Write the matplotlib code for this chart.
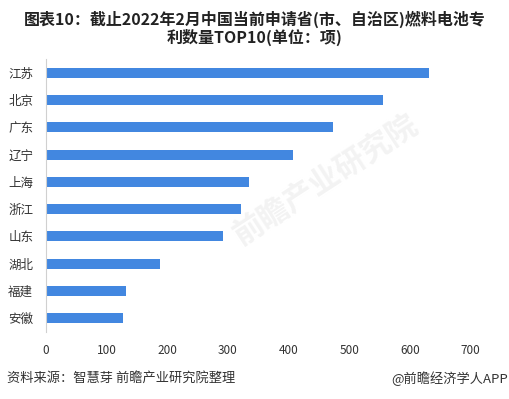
import matplotlib
matplotlib.use("Agg")
import matplotlib.pyplot as plt

plt.rcParams["font.family"] = ["Noto Sans CJK SC", "DejaVu Sans"]

provinces = ["江苏", "北京", "广东", "辽宁", "上海", "浙江", "山东", "湖北", "福建", "安徽"]
patents = [632, 556, 473, 407, 334, 321, 292, 189, 132, 127]
x_ticks = [0, 100, 200, 300, 400, 500, 600, 700]

title = "图表10：截止2022年2月中国当前申请省(市、自治区)燃料电池专\n利数量TOP10(单位：项)"
source = "资料来源：智慧芽 前瞻产业研究院整理"
brand = "@前瞻经济学人APP"

fig = plt.figure(figsize=(5.09, 3.99), dpi=100)
ax = fig.add_axes([0.0898, 0.168, 0.835, 0.684])

# faint watermark behind the bars
fig.text(0.64, 0.55, "前瞻产业研究院", fontsize=22, color="#f3f3f3",
         rotation=33, ha="center", va="center", fontweight="bold", zorder=0)

ax.barh(range(len(provinces)), patents, height=0.37, color="#4287e0", zorder=2)
ax.set_ylim(len(provinces) - 0.5, -0.5)
ax.set_xlim(0, 700)
ax.set_yticks(range(len(provinces)))
ax.set_yticklabels(provinces, fontsize=9, color="#333333")
ax.set_xticks(x_ticks)
ax.set_xticklabels([str(t) for t in x_ticks], fontsize=8.5, color="#333333")
ax.tick_params(length=0)
ax.tick_params(axis="x", pad=9)
ax.tick_params(axis="y", pad=9)
ax.patch.set_alpha(0)
for side in ("top", "right", "bottom"):
    ax.spines[side].set_visible(False)
ax.spines["left"].set_color("#d0d0d0")

fig.text(0.5, 0.972, title, ha="center", va="top", fontsize=11.5,
         fontweight="bold", color="#222222", linespacing=1.05)
fig.text(0.014, 0.052, source, ha="left", va="center", fontsize=9.5, color="#333333")
fig.text(0.998, 0.052, brand, ha="right", va="center", fontsize=9.5, color="#333333")

fig.savefig("out.png", dpi=100)
